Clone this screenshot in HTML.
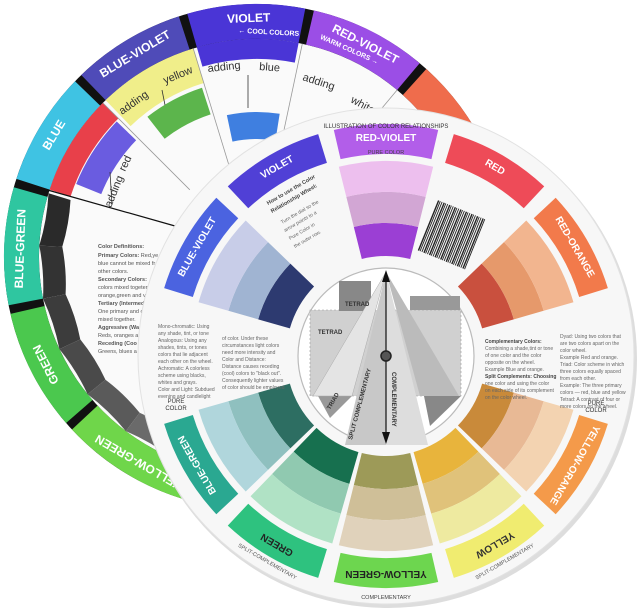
<!DOCTYPE html>
<html><head><meta charset="utf-8">
<style>
html,body{margin:0;padding:0;background:#fff;}
svg{display:block;font-family:"Liberation Sans",sans-serif;}
</style></head>
<body>
<svg id="s" width="640" height="611" viewBox="0 0 640 611" xmlns="http://www.w3.org/2000/svg">
<g id="back"></g>
<g id="backtxt" font-size="11" fill="#333">
  <g font-weight="bold" fill="#fff" font-size="12" text-anchor="middle">
    <text x="257" y="22" transform="rotate(-2 257 257)">VIOLET</text>
    <text x="257" y="22" transform="rotate(27 257 257)">RED-VIOLET</text>
    <text x="257" y="24" transform="rotate(-31 257 257)">BLUE-VIOLET</text>
    <text x="257" y="24" transform="rotate(-59 257 257)">BLUE</text>
    <text x="257" y="24" transform="rotate(-88 257 257)">BLUE-GREEN</text>
    <text x="257" y="24" transform="rotate(-117 257 257)">GREEN</text>
    <text x="257" y="24" transform="rotate(-150 257 257)">YELLOW-GREEN</text>
    <text x="257" y="34" font-size="7" transform="rotate(3 257 257)">← COOL COLORS</text>
    <text x="257" y="32" font-size="7" transform="rotate(24 257 257)">WARM COLORS →</text>
  </g>
  <text x="208" y="72" transform="rotate(-6 208 72)">adding</text>
  <text x="259" y="70" transform="rotate(4 259 70)">blue</text>
  <text x="302" y="80" transform="rotate(18 302 80)">adding</text>
  <text x="350" y="102" transform="rotate(28 350 102)">white</text>
  <text x="165" y="84" transform="rotate(-22 165 84)">yellow</text>
  <text x="122" y="115" transform="rotate(-35 122 115)">adding</text>
  <text x="125" y="172" transform="rotate(-65 125 172)">red</text>
  <text x="111" y="208" transform="rotate(-68 111 208)">adding</text>
  <g font-size="5.5" fill="#555">
    <text x="98" y="248" font-weight="bold">Color Definitions:</text>
    <text x="98" y="257"><tspan font-weight="bold">Primary Colors:</tspan> Red,ye</text>
    <text x="98" y="265">blue cannot be mixed fr</text>
    <text x="98" y="273">other colors.</text>
    <text x="98" y="281"><tspan font-weight="bold">Secondary Colors:</tspan></text>
    <text x="98" y="289">colors mixed togeter</text>
    <text x="98" y="297">orange,green and v</text>
    <text x="98" y="305" font-weight="bold">Tertiary (Intermed</text>
    <text x="98" y="313">One primary and o</text>
    <text x="98" y="321">mixed together.</text>
    <text x="98" y="329" font-weight="bold">Aggressive (Wa</text>
    <text x="98" y="337">Reds, oranges a</text>
    <text x="98" y="345" font-weight="bold">Receding (Coo</text>
    <text x="98" y="353">Greens, blues a</text>
  </g>
</g>
<g id="front"></g>
<g id="fronttxt" font-weight="bold" fill="#fff" font-size="10" text-anchor="middle">
  <text x="386" y="141" transform="rotate(0 386 356)">RED-VIOLET</text>
  <text x="386" y="141" transform="rotate(30 386 356)">RED</text>
  <text x="386" y="141" transform="rotate(60 386 356)">RED-ORANGE</text>
  <text x="386" y="141" transform="rotate(120 386 356)">YELLOW-ORANGE</text>
  <text x="386" y="141" fill="#333" transform="rotate(150 386 356)">YELLOW</text>
  <text x="386" y="141" fill="#222" transform="rotate(180 386 356)">YELLOW-GREEN</text>
  <text x="386" y="141" fill="#222" transform="rotate(210 386 356)">GREEN</text>
  <text x="386" y="141" transform="rotate(240 386 356)">BLUE-GREEN</text>
  <text x="386" y="141" transform="rotate(300 386 356)">BLUE-VIOLET</text>
  <text x="386" y="141" transform="rotate(330 386 356)">VIOLET</text>
</g>
<g font-size="5.5" fill="#555" text-anchor="middle">
  <text x="386" y="128" font-size="6" fill="#333" transform="rotate(0 386 356)">ILLUSTRATION OF COLOR RELATIONSHIPS</text>
  <text x="386" y="154" font-size="5.5" fill="#444">PURE COLOR</text>
  <text x="386" y="599" font-size="5.5" fill="#444">COMPLEMENTARY</text>
  <text x="386" y="595" transform="rotate(30 386 356)">SPLIT-COMPLEMENTARY</text>
  <text x="386" y="595" transform="rotate(-30 386 356)">SPLIT-COMPLEMENTARY</text>
  <text x="176" y="403" font-size="6" fill="#333">PURE</text>
  <text x="176" y="410" font-size="6" fill="#333">COLOR</text>
  <text x="596" y="405" font-size="6" fill="#333">PURE</text>
  <text x="596" y="412" font-size="6" fill="#333">COLOR</text>
</g>
<g font-size="5" fill="#666">
  <text x="268" y="205" font-size="5.5" font-weight="bold" fill="#444" transform="rotate(-30 268 205)">How to use the Color</text>
  <text x="272" y="213" font-size="5.5" font-weight="bold" fill="#444" transform="rotate(-30 272 213)">Relationship Wheel:</text>
  <text x="282" y="224" transform="rotate(-30 282 224)">Turn the dial so the</text>
  <text x="285" y="232" transform="rotate(-30 285 232)">arrow points to a</text>
  <text x="290" y="240" transform="rotate(-30 290 240)">Pure Color in</text>
  <text x="295" y="248" transform="rotate(-30 295 248)">the outer row.</text>
  <text x="158" y="328">Mono-chromatic: Using</text>
  <text x="158" y="335">any shade, tint, or tone</text>
  <text x="158" y="342">Analogous: Using any</text>
  <text x="158" y="349">shades, tints, or tones</text>
  <text x="158" y="356">colors that lie adjacent</text>
  <text x="158" y="363">each other on the wheel.</text>
  <text x="158" y="370">Achromatic: A colorless</text>
  <text x="158" y="377">scheme using blacks,</text>
  <text x="158" y="384">whites and grays.</text>
  <text x="158" y="391">Color and Light: Subdued</text>
  <text x="158" y="398">evening and candlelight</text>
  <text x="222" y="340">of color. Under these</text>
  <text x="222" y="347">circumstances light colors</text>
  <text x="222" y="354">need more intensity and</text>
  <text x="222" y="361">Color and Distance:</text>
  <text x="222" y="368">Distance causes receding</text>
  <text x="222" y="375">(cool) colors to "black out".</text>
  <text x="222" y="382">Consequently lighter values</text>
  <text x="222" y="389">of color should be employed</text>
  <text x="485" y="343" font-weight="bold" fill="#444">Complementary Colors:</text>
  <text x="485" y="350">Combining a shade,tint or tone</text>
  <text x="485" y="357">of one color and the color</text>
  <text x="485" y="364">opposite on the wheel.</text>
  <text x="485" y="371">Example Blue and orange.</text>
  <text x="485" y="378" font-weight="bold" fill="#444">Split Complements: Choosing</text>
  <text x="485" y="385">one color and using the color</text>
  <text x="485" y="392">on each side of its complement</text>
  <text x="485" y="399">on the color wheel.</text>
  <text x="560" y="338">Dyad: Using two colors that</text>
  <text x="560" y="345">are two colors apart on the</text>
  <text x="560" y="352">color wheel.</text>
  <text x="560" y="359">Example Red and orange.</text>
  <text x="560" y="366">Triad: Color scheme in which</text>
  <text x="560" y="373">three colors equally spaced</text>
  <text x="560" y="380">from each other.</text>
  <text x="560" y="387">Example: The three primary</text>
  <text x="560" y="394">colors — red, blue and yellow</text>
  <text x="560" y="401">Tetrad: A contrast of four or</text>
  <text x="560" y="408">more colors on the wheel.</text>
</g>
<g id="center"></g>
<g font-size="6" font-weight="bold" fill="#333">
  <text x="345" y="306">TETRAD</text>
  <text x="318" y="334">TETRAD</text>
  <text x="330" y="410" transform="rotate(-60 330 410)">TRIAD</text>
  <text x="352" y="440" transform="rotate(-75 352 440)">SPLIT COMPLEMENTARY</text>
  <text x="392" y="372" transform="rotate(90 392 372)">COMPLEMENTARY</text>
</g>
<script>
var NS="http://www.w3.org/2000/svg";
function P(cx,cy,r,a){a=a*Math.PI/180;return [cx+r*Math.sin(a),cy-r*Math.cos(a)];}
function sec(g,cx,cy,r1,r2,a1,a2,f,extra){
 var p1=P(cx,cy,r2,a1),p2=P(cx,cy,r2,a2),p3=P(cx,cy,r1,a2),p4=P(cx,cy,r1,a1);
 var lg=(a2-a1)>180?1:0;
 var d="M"+p1+"A"+r2+","+r2+" 0 "+lg+" 1 "+p2+"L"+p3+"A"+r1+","+r1+" 0 "+lg+" 0 "+p4+"Z";
 var e=document.createElementNS(NS,"path");e.setAttribute("d",d);e.setAttribute("fill",f);
 if(extra)for(var k in extra)e.setAttribute(k,extra[k]);
 document.getElementById(g).appendChild(e);}
function el(g,t,at){var e=document.createElementNS(NS,t);for(var k in at)e.setAttribute(k,at[k]);document.getElementById(g).appendChild(e);return e;}
var bx=257,by=257;
el("back","circle",{cx:bx,cy:by,r:253,fill:"#111"});
el("back","circle",{cx:bx,cy:by,r:218,fill:"#fafafa"});
[[-16,11,"#4a35d6"],[13,40,"#9b4ee6"],[42,78,"#ef6c4c"],[-44,-18,"#4f4bb8"],[-72,-46,"#3fc3e3"],[-101,-74,"#2fc6a0"],[-131,-103,"#4bc84e"],[-168,-133,"#6fd64a"]].forEach(function(s){sec("back",bx,by,218,253,s[0],s[1],s[2]);});
sec("back",bx,by,198,218,-16,11,"#4a35d6");
sec("back",bx,by,182,218,-44,-17,"#f0ee8a");
sec("back",bx,by,196,218,-72,-45,"#e8404a");
var g=["#2a2a2a","#333","#3c3c3c","#4a4a4a","#5a5a5a","#6a6a6a","#7a7a7a"];
for(var i=0;i<7;i++)sec("back",bx,by,195,218,-73-i*14,-73-(i+1)*14,g[i]);
sec("back",bx,by,118,145,-12,9,"#3f7fe0");
sec("back",bx,by,150,178,-38,-18,"#5cb54c");
sec("back",bx,by,168,195,-68,-46,"#6a5ce0");
[-45,-17,12,40].forEach(function(a){var p=P(bx,by,95,a),q=P(bx,by,218,a);el("back","line",{x1:p[0],y1:p[1],x2:q[0],y2:q[1],stroke:"#999","stroke-width":0.8});});
el("back","line",{x1:37,y1:187,x2:175,y2:226,stroke:"#111","stroke-width":1.2});
el("back","line",{x1:248,y1:75,x2:248,y2:108,stroke:"#333","stroke-width":0.8});
el("back","line",{x1:162,y1:90,x2:165,y2:105,stroke:"#333","stroke-width":0.8});
el("back","line",{x1:112,y1:205,x2:110,y2:172,stroke:"#333","stroke-width":0.8});
var fx=386,fy=356;
el("front","circle",{cx:fx+2,cy:fy+3,r:249,fill:"#ddd"});
el("front","circle",{cx:fx,cy:fy,r:248,fill:"#f7f7f7",stroke:"#e2e2e2","stroke-width":1});
[[0,"#b25ee9"],[30,"#ee4b58"],[60,"#f27a4b"],[120,"#f49a4a"],[150,"#f0ec70"],[180,"#6dd64f"],[210,"#2ec27f"],[240,"#2aa891"],[300,"#4b63e0"],[330,"#5040d6"]].forEach(function(s){sec("front",fx,fy,202,232,s[0]-13,s[0]+13,s[1]);});
var W={0:["#9b3fd4","#d2a6d4","#edbfee"],60:["#c9503e","#e6996b","#f2b58f"],120:["#c98a3a","#e8b995","#f3d3b1"],150:["#e8b43c","#e0c27a","#eeeaa0"],180:["#9d9a58","#cfbf98","#e0d2bb"],210:["#17704f","#90c9b0","#b0e2c5"],240:["#2d6e62","#8fc0bf","#b0d6dc"],300:["#2d3a70","#a0b4d2","#c8cde8"]};
for(var a in W){a=+a;var c=W[a];sec("front",fx,fy,100,133,a-14,a+14,c[0]);sec("front",fx,fy,133,164,a-14,a+14,c[1]);sec("front",fx,fy,164,195,a-14,a+14,c[2]);}
for(var i=0;i<26;i++){el("front","rect",{x:426+i*2,y:208,width:(i%3?0.9:1.4),height:54,fill:"#222",transform:"rotate(22 452 235)"});}
el("center","circle",{cx:fx,cy:fy,r:88,fill:"#fff",stroke:"#bbb","stroke-width":1.2});
el("center","rect",{x:310,y:310,width:151,height:86,fill:"#d0d0d0",stroke:"#999","stroke-dasharray":"2,2","stroke-width":0.6});
el("center","rect",{x:339,y:281,width:32,height:30,fill:"#888"});
el("center","rect",{x:410,y:296,width:50,height:14,fill:"#999"});
el("center","polygon",{points:"424,396 461,396 430,426",fill:"#888"});
el("center","polygon",{points:"318,396 352,396 330,418",fill:"#999"});
el("center","polygon",{points:"386,272 313,396 352,396",fill:"#e4e4e4",stroke:"#aaa","stroke-width":0.5});
el("center","polygon",{points:"386,272 345,445 386,445",fill:"#c8c8c8"});
el("center","polygon",{points:"386,272 428,445 386,445",fill:"#ddd"});
el("center","polygon",{points:"386,272 459,396 420,396",fill:"#bbb"});
el("center","line",{x1:386,y1:278,x2:386,y2:440,stroke:"#111","stroke-width":1.2});
el("center","polygon",{points:"386,270 382,282 390,282",fill:"#111"});
el("center","polygon",{points:"386,444 382,432 390,432",fill:"#111"});
el("center","circle",{cx:386,cy:356,r:5,fill:"#555",stroke:"#222","stroke-width":1.5});
</script>
</svg>
</body></html>
